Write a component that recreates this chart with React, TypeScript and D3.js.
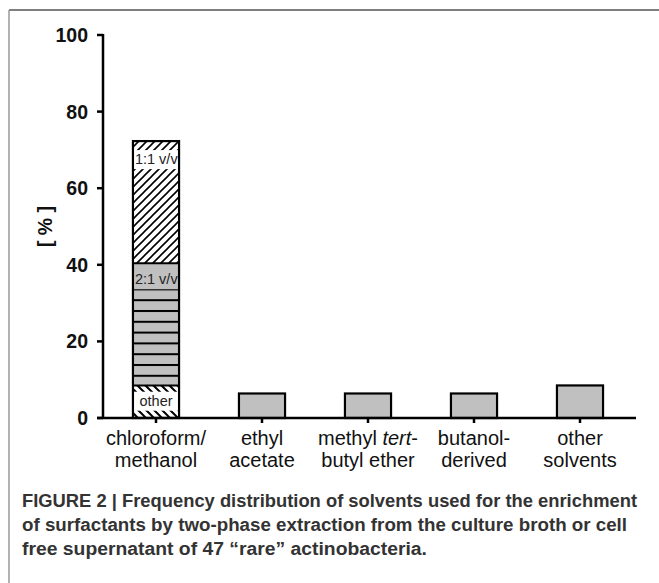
import { useEffect, useRef } from 'react';
import * as d3 from 'd3';

// categories, two-line labels
const categories = ['chloroform/methanol', 'ethyl acetate', 'methyl tert-butyl ether', 'butanol-derived', 'other solvents'];
const labelLine1 = ['chloroform/', 'ethyl', 'methyl |tert|-', 'butanol-', 'other'];
const labelLine2 = ['methanol', 'acetate', 'butyl ether', 'derived', 'solvents'];
const totals = [72.3, 6.4, 6.4, 6.4, 8.5];

// chloroform/methanol split (bottom to top)
const segNames = ['other', '2:1 v/v', '1:1 v/v'];
const segValues = [8.5, 31.9, 31.9];

const yTicks = [0, 20, 40, 60, 80, 100];

const captionLines = [
  'FIGURE 2 | Frequency distribution of solvents used for the enrichment',
  'of surfactants by two-phase extraction from the culture broth or cell',
  'free supernatant of 47 \u201crare\u201d actinobacteria.',
];
const captionWidths = [615, 605, 405];

const W = 659;
const H = 583;
const FONT = '"Liberation Sans", Arial, sans-serif';

export default function App() {
  const svgRef = useRef<SVGSVGElement>(null);

  useEffect(() => {
    if (!svgRef.current) return;
    const svg = d3.select(svgRef.current);
    svg.selectAll('*').remove();

    const left = 103, right = 633, top = 35, bottom = 418;
    const x = d3.scaleBand().domain(categories).range([left, right]).paddingInner(0.565).paddingOuter(0.2825);
    const y = d3.scaleLinear().domain([0, 100]).range([bottom, top]);
    const gray = '#c0c0c0';

    // frame
    svg.append('line').attr('x1', 9).attr('y1', 10).attr('x2', W).attr('y2', 10)
      .attr('stroke', '#555').attr('stroke-width', 1.5);
    svg.append('line').attr('x1', 9).attr('y1', 10).attr('x2', 9).attr('y2', H)
      .attr('stroke', '#999').attr('stroke-width', 1.5);

    const defs = svg.append('defs');
    const p11 = defs.append('pattern').attr('id', 'hatch11').attr('patternUnits', 'userSpaceOnUse')
      .attr('width', 8).attr('height', 8);
    p11.append('rect').attr('width', 8).attr('height', 8).attr('fill', '#fff');
    p11.append('path').attr('d', 'M-2,2 l4,-4 M0,8 l8,-8 M6,10 l4,-4')
      .attr('stroke', '#000').attr('stroke-width', 1.6);

    const p21 = defs.append('pattern').attr('id', 'horiz21').attr('patternUnits', 'userSpaceOnUse')
      .attr('width', 10).attr('height', 10.8).attr('y', bottom);
    p21.append('rect').attr('width', 10).attr('height', 10.8).attr('fill', gray);
    p21.append('line').attr('x1', 0).attr('x2', 10).attr('y1', 1).attr('y2', 1)
      .attr('stroke', '#000').attr('stroke-width', 2);

    const pOther = defs.append('pattern').attr('id', 'hatchOther').attr('patternUnits', 'userSpaceOnUse')
      .attr('width', 8).attr('height', 8);
    pOther.append('rect').attr('width', 8).attr('height', 8).attr('fill', '#fff');
    pOther.append('path').attr('d', 'M-2,6 l4,4 M0,0 l8,8 M6,-2 l4,4')
      .attr('stroke', '#000').attr('stroke-width', 2);

    const fills = ['url(#hatchOther)', 'url(#horiz21)', 'url(#hatch11)'];
    const labelBg = ['#fff', gray, '#fff'];

    // stacked bar
    const c0 = categories[0];
    const bx = x(c0)!;
    const bw = x.bandwidth();
    defs.append('clipPath').attr('id', 'barclip').append('rect')
      .attr('x', bx).attr('y', y(totals[0])).attr('width', bw).attr('height', y(0) - y(totals[0]));

    let acc = 0;
    const segs = segValues.map((v, i) => {
      const s = { name: segNames[i], y0: acc, y1: acc + v, i };
      acc += v;
      return s;
    });
    const gBar = svg.append('g');
    segs.forEach(s => {
      gBar.append('rect').attr('x', bx).attr('y', y(s.y1)).attr('width', bw).attr('height', y(s.y0) - y(s.y1))
        .attr('fill', fills[s.i]);
    });
    const gLab = svg.append('g').attr('clip-path', 'url(#barclip)');
    segs.forEach(s => {
      let ly: number;
      if (s.i === 0) ly = (y(s.y0) + y(s.y1)) / 2 - 10;
      else ly = y(s.y1) + (s.i === 2 ? 9 : 2);
      const lh = s.i === 1 ? 24 : 19;
      gLab.append('rect').attr('x', bx).attr('y', ly).attr('width', bw).attr('height', lh)
        .attr('fill', labelBg[s.i]);
      gLab.append('text').attr('x', s.i === 0 ? bx + bw / 2 : bx + 2).attr('y', ly + (s.i === 1 ? 19 : 14))
        .attr('text-anchor', s.i === 0 ? 'middle' : 'start')
        .attr('font-family', FONT).attr('font-size', 14.5).attr('fill', '#222')
        .text(s.name);
    });
    // segment borders
    segs.forEach(s => {
      gBar.append('line').attr('x1', bx).attr('x2', bx + bw).attr('y1', y(s.y1)).attr('y2', y(s.y1))
        .attr('stroke', '#000').attr('stroke-width', 2);
    });
    svg.append('rect').attr('x', bx).attr('y', y(totals[0])).attr('width', bw).attr('height', y(0) - y(totals[0]))
      .attr('fill', 'none').attr('stroke', '#000').attr('stroke-width', 2.2);

    // simple bars
    categories.slice(1).forEach((c, i) => {
      svg.append('rect').attr('x', x(c)!).attr('y', y(totals[i + 1])).attr('width', bw)
        .attr('height', y(0) - y(totals[i + 1]))
        .attr('fill', gray).attr('stroke', '#000').attr('stroke-width', 2.2);
    });

    // y axis
    svg.append('line').attr('x1', left).attr('x2', left).attr('y1', top - 1).attr('y2', bottom + 1)
      .attr('stroke', '#000').attr('stroke-width', 2.5);
    yTicks.forEach(t => {
      svg.append('line').attr('x1', left - 6).attr('x2', left).attr('y1', y(t)).attr('y2', y(t))
        .attr('stroke', '#000').attr('stroke-width', 2.5);
      svg.append('text').attr('x', left - 15).attr('y', y(t) + 7).attr('text-anchor', 'end')
        .attr('font-family', FONT).attr('font-weight', 'bold').attr('font-size', 19.5).attr('fill', '#111')
        .text(t);
    });
    svg.append('text').attr('transform', `translate(52,${(top + bottom) / 2}) rotate(-90)`)
      .attr('text-anchor', 'middle').attr('font-family', FONT).attr('font-weight', 'bold')
      .attr('font-size', 19.5).attr('fill', '#111').text('[ % ]');

    // x axis
    svg.append('line').attr('x1', left - 6).attr('x2', 636).attr('y1', bottom).attr('y2', bottom)
      .attr('stroke', '#000').attr('stroke-width', 2.5);
    categories.forEach((c, i) => {
      const cx = x(c)! + bw / 2;
      svg.append('line').attr('x1', cx).attr('x2', cx).attr('y1', bottom).attr('y2', bottom + 5)
        .attr('stroke', '#000').attr('stroke-width', 2.5);
      const t1 = svg.append('text').attr('x', cx).attr('y', 445).attr('text-anchor', 'middle')
        .attr('font-family', FONT).attr('font-size', 20).attr('fill', '#111');
      labelLine1[i].split('|').forEach((part, k) => {
        if (part) t1.append('tspan').attr('font-style', k % 2 ? 'italic' : 'normal').text(part);
      });
      svg.append('text').attr('x', cx).attr('y', 467).attr('text-anchor', 'middle')
        .attr('font-family', FONT).attr('font-size', 20).attr('fill', '#111')
        .text(labelLine2[i]);
    });

    // caption
    captionLines.forEach((line, i) => {
      svg.append('text').attr('x', 22).attr('y', 507 + i * 24)
        .attr('font-family', FONT).attr('font-weight', 'bold').attr('font-size', 18).attr('fill', '#333')
        .attr('textLength', captionWidths[i]).attr('lengthAdjust', 'spacingAndGlyphs')
        .text(line);
    });
  }, []);

  return (
    <svg ref={svgRef} width={W} height={H}
      style={{ position: 'absolute', left: 0, top: 0, background: '#fff' }} />
  );
}
